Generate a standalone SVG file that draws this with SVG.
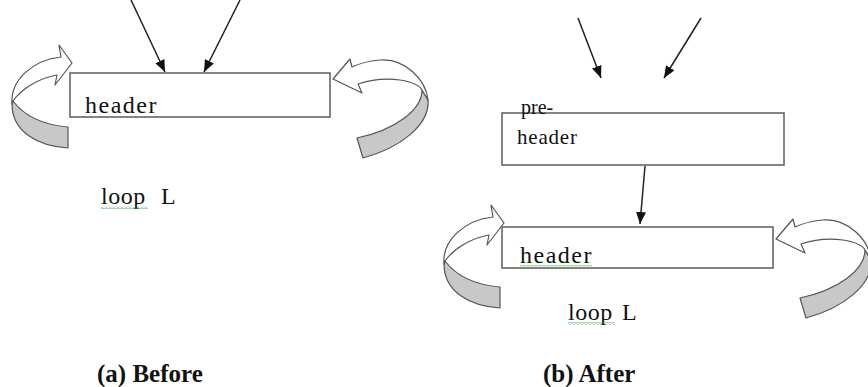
<svg xmlns="http://www.w3.org/2000/svg" width="868" height="387" viewBox="0 0 868 387">
<style>
.box{fill:#fff;stroke:#666;stroke-width:1.6}
.t{font-family:"Liberation Serif","Times New Roman",serif;fill:#111}
.cap{font-family:"Liberation Serif","Times New Roman",serif;font-weight:bold;font-size:25px;fill:#111}
.ln{stroke:#222;stroke-width:1.5;fill:none}
.band{fill:#fff;stroke:#555;stroke-width:1.2;stroke-linejoin:round}
.shade{fill:#c8c8c8;stroke:#555;stroke-width:1.2;stroke-linejoin:round}
</style>
<defs>
<marker id="ah" viewBox="0 0 12 10" refX="12" refY="5" markerWidth="12" markerHeight="10" markerUnits="userSpaceOnUse" orient="auto">
<path d="M0,0 L12,5 L0,10 Z" fill="#111"/>
</marker>
<pattern id="sq" width="4" height="3" patternUnits="userSpaceOnUse">
<path d="M0,2.5 L2,0.5 L4,2.5" fill="none" stroke="#3aa83a" stroke-width="0.9"/>
</pattern>
<g id="loopL">
<path class="shade" d="M13,101 C25,117 45,125 68,127 L68,148 C38,146 12,132 12,104 Z"/>
<path class="band" d="M12,104 C10,80 33,60 61,57 L59,45 L72,63 L55,85 L57,75 C40,78 22,88 13,101 Z"/>
</g>
<g id="loopR">
<path class="shade" d="M422,90 C422,110 395,130 357,138 L363,158 C400,148 430,125 428,100 Z"/>
<path class="band" d="M428,100 C426,80 405,58 380,60 C370,61 360,63 352,67 L350,59 L333,79 L362,93 L358,84 C370,80 385,78 400,80 C412,82 420,86 422,90 Z"/>
</g>
</defs>

<g id="connectors">
<line class="ln" x1="131" y1="0" x2="165" y2="72" marker-end="url(#ah)"/>
<line class="ln" x1="240" y1="0" x2="204" y2="72" marker-end="url(#ah)"/>
<line class="ln" x1="578" y1="18" x2="601" y2="78" marker-end="url(#ah)"/>
<line class="ln" x1="701" y1="18" x2="664" y2="78" marker-end="url(#ah)"/>
<line class="ln" x1="645" y1="166" x2="640" y2="224" marker-end="url(#ah)"/>
<use href="#loopL"/>
<use href="#loopR"/>
<use href="#loopL" transform="translate(432,160)"/>
<use href="#loopR" transform="translate(443,160)"/>
</g>

<g id="header-before">
<rect class="box" x="70" y="73" width="260" height="44"/>
<text class="t" x="85" y="113" font-size="24" letter-spacing="1.5">header</text>
</g>
<g id="loop-before">
<text class="t" x="101" y="204" font-size="24" letter-spacing="0.5">loop<tspan x="161">L</tspan></text>
<rect x="101" y="206" width="47" height="3" fill="url(#sq)"/>
</g>

<g id="preheader">
<rect class="box" x="502" y="113" width="282" height="52"/>
<text class="t" x="521" y="114" font-size="20">pre-</text>
<text class="t" x="517" y="144" font-size="21" letter-spacing="0.8">header</text>
</g>
<g id="header-after">
<rect class="box" x="502" y="227" width="271" height="41"/>
<text class="t" x="520" y="263" font-size="24" letter-spacing="1.5">header</text>
<rect x="520" y="265" width="72" height="3" fill="url(#sq)"/>
</g>
<g id="loop-after">
<text class="t" x="568" y="320" font-size="24" letter-spacing="0.5">loop<tspan x="622">L</tspan></text>
<rect x="568" y="322" width="47" height="3" fill="url(#sq)"/>
</g>

<g id="captions">
<text class="cap" x="97" y="382">(a) Before</text>
<text class="cap" x="543" y="382">(b) After</text>
</g>
</svg>
